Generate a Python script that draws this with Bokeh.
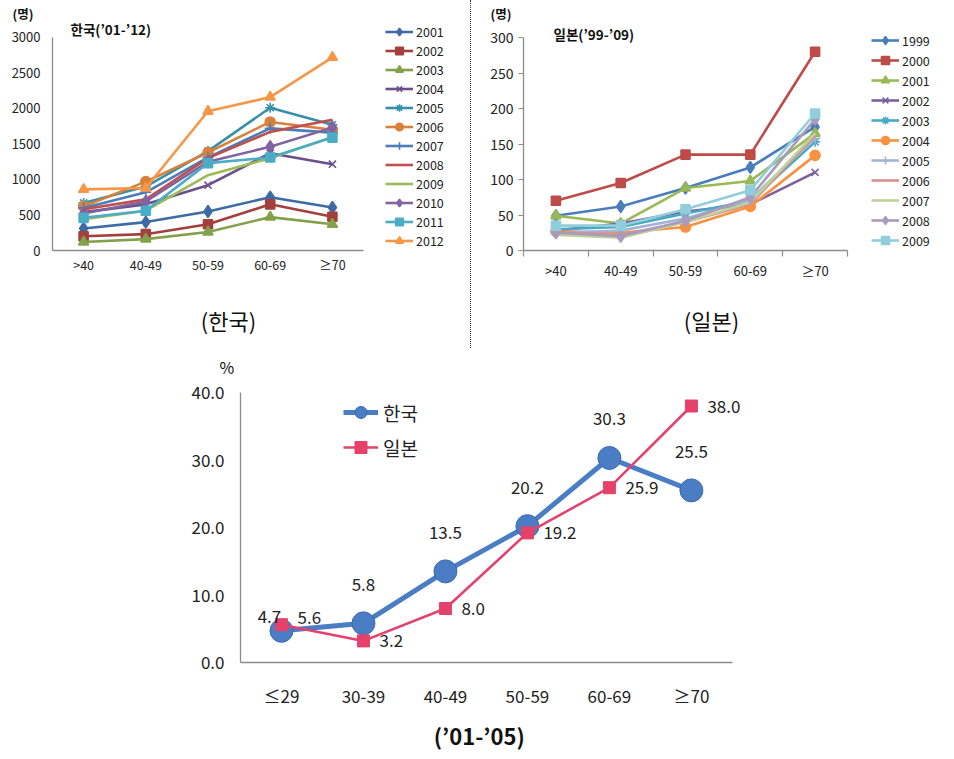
from bokeh.plotting import figure
from bokeh.models import (Range1d, Legend, LegendItem, Label, LabelSet, Title,
                          ColumnDataSource, FixedTicker, NumeralTickFormatter, Div)
from bokeh.core.properties import value
from bokeh.layouts import column, row
from bokeh.embed import file_html
from bokeh.resources import INLINE

FONT = "Noto Sans CJK KR"

# ---------------- data ----------------
age_top = [">40", "40-49", "50-59", "60-69", "≥70"]

kr_years = ["2001", "2002", "2003", "2004", "2005", "2006",
            "2007", "2008", "2009", "2010", "2011", "2012"]
kr_2001 = [310, 400, 550, 750, 605]
kr_2002 = [200, 230, 370, 650, 475]
kr_2003 = [120, 160, 260, 470, 370]
kr_2004 = [540, 650, 920, 1370, 1215]
kr_2005 = [670, 900, 1400, 2010, 1770]
kr_2006 = [620, 970, 1380, 1810, 1700]
kr_2007 = [600, 820, 1310, 1720, 1660]
kr_2008 = [580, 720, 1300, 1670, 1840]
kr_2009 = [440, 560, 1060, 1300, 1600]
kr_2010 = [520, 690, 1250, 1460, 1730]
kr_2011 = [460, 560, 1230, 1310, 1590]
kr_2012 = [860, 880, 1960, 2160, 2720]
kr_series = [kr_2001, kr_2002, kr_2003, kr_2004, kr_2005, kr_2006,
             kr_2007, kr_2008, kr_2009, kr_2010, kr_2011, kr_2012]

jp_years = ["1999", "2000", "2001", "2002", "2003", "2004",
            "2005", "2006", "2007", "2008", "2009"]
jp_1999 = [49, 62, 88, 117, 174]
jp_2000 = [70, 95, 135, 135, 280]
jp_2001 = [49, 38, 88, 98, 165]
jp_2002 = [28, 38, 55, 65, 110]
jp_2003 = [30, 33, 52, 70, 153]
jp_2004 = [27, 25, 33, 62, 134]
jp_2005 = [25, 28, 45, 72, 158]
jp_2006 = [26, 22, 40, 65, 162]
jp_2007 = [22, 18, 40, 68, 165]
jp_2008 = [25, 20, 42, 75, 185]
jp_2009 = [35, 35, 58, 85, 193]
jp_series = [jp_1999, jp_2000, jp_2001, jp_2002, jp_2003, jp_2004,
             jp_2005, jp_2006, jp_2007, jp_2008, jp_2009]

age_bot = ["≤29", "30-39", "40-49", "50-59", "60-69", "≥70"]
korea_pct = [4.7, 5.8, 13.5, 20.2, 30.3, 25.5]
japan_pct = [5.6, 3.2, 8.0, 19.2, 25.9, 38.0]

# ---------------- styles ----------------
kr_colors = ["#3D6BA5", "#A3403C", "#83A14A", "#6A4F8A", "#3790A8", "#D9803A",
             "#4A7EBB", "#C0504D", "#9BBB59", "#8064A2", "#4BACC6", "#F79646"]
kr_markers = ["diamond", "square", "triangle", "x", "asterisk", "circle",
              "cross", None, None, "diamond", "square", "triangle"]
jp_colors = ["#4A7EBB", "#BE4B48", "#98B954", "#7D60A0", "#46AAC5", "#F69240",
             "#A2B4D6", "#DA8F8D", "#BDD39A", "#A99BBD", "#92CDDC"]
jp_markers = ["diamond", "square", "triangle", "x", "asterisk", "circle",
              "cross", None, None, "diamond", "square"]
marker_size = {"diamond": 12, "square": 9, "triangle": 10, "x": 10,
               "asterisk": 10, "circle": 10, "cross": 11}
AXIS_GREY = "#8C8C8C"
TXT = "#222222"
EM, EN, QS = "\u2003", "\u2002", "\u2005"


def style_common(p):
    p.outline_line_color = None
    p.xgrid.grid_line_color = None
    p.ygrid.grid_line_color = None
    p.background_fill_color = "white"
    p.border_fill_color = "white"
    for ax in (p.xaxis, p.yaxis):
        ax.axis_line_color = AXIS_GREY
        ax.axis_line_width = 1.3
        ax.major_label_text_font = FONT
        ax.major_label_text_color = TXT
        ax.minor_tick_line_color = None
        ax.axis_label_text_font = FONT
        ax.axis_label_text_color = "#111111"
        ax.axis_label_text_font_style = "normal"


def cat_axis(ax, centers, labels):
    ax.ticker = FixedTicker(ticks=centers)
    ax.major_label_overrides = {c: lab for c, lab in zip(centers, labels)}
    ax.major_tick_out = 0
    ax.major_tick_in = 0


def make_series(p, xs, series, names, colors, markers):
    items = []
    for ys, name, col, mk in zip(series, names, colors, markers):
        src = ColumnDataSource(dict(x=xs, y=ys))
        rends = [p.line("x", "y", source=src, line_color=col, line_width=2.6)]
        if mk is not None:
            rends.append(p.scatter("x", "y", source=src, marker=mk, size=marker_size[mk],
                                   fill_color=col, line_color=col, line_width=1.6))
        items.append(LegendItem(label=name, renderers=rends))
    return items


def top_legend(items, loc, gh):
    return Legend(items=items, location=loc, orientation="vertical",
                  glyph_width=28, glyph_height=gh, label_height=gh, spacing=0,
                  label_standoff=3, padding=0, margin=0,
                  border_line_color=None, background_fill_alpha=0,
                  label_text_font=FONT, label_text_font_size="12.5px",
                  label_text_color=TXT)


def unit_title(offset):
    return Title(text="(명)", align="left", offset=offset, standoff=0,
                 vertical_align="bottom", text_font=FONT, text_font_size="12.5px",
                 text_font_style="bold", text_color="#111111")


def chart_label(p, text, x, y):
    p.add_layout(Label(x=x, y=y, x_units="screen", y_units="screen", text=text,
                       text_font=FONT, text_font_size="13.5px", text_font_style="bold",
                       text_color="#111111", text_align="left", text_baseline="middle"))


ctr_top = [i + 0.5 for i in range(len(age_top))]

# ---------------- Korea (top left) ----------------
pk = figure(width=470, height=348, x_range=Range1d(0, 5 * 418 / 311),
            y_range=Range1d(0, 3000 * 229 / 214),
            output_backend="svg", toolbar_location=None,
            min_border_left=52, min_border_right=0, min_border_top=22, min_border_bottom=97)
style_common(pk)
pk.yaxis.ticker = FixedTicker(ticks=[0, 500, 1000, 1500, 2000, 2500, 3000])
pk.yaxis.bounds = (0, 3000)
pk.yaxis.major_tick_out = 0
pk.yaxis.major_tick_in = 0
pk.yaxis.major_label_standoff = 12
pk.yaxis.major_label_text_font_size = "13px"
cat_axis(pk.xaxis, ctr_top, age_top)
pk.xaxis.bounds = (0, len(age_top))
pk.xaxis.major_label_standoff = 4
pk.xaxis.major_label_text_font_size = "12.5px"
pk.xaxis.axis_label = "(한국)" + EM + EM + EM
pk.xaxis.axis_label_text_font_size = "22px"
pk.xaxis.axis_label_standoff = 27
kr_items = make_series(pk, ctr_top, kr_series, kr_years, kr_colors, kr_markers)
pk.add_layout(top_legend(kr_items, (333, 0), 19), "center")
pk.add_layout(unit_title(-40), "above")
chart_label(pk, "한국(’01-’12)", 18, 222)

# ---------------- separator ----------------
sep = Div(text="", width=1, height=348, margin=0,
          styles={"border-left": "1px dotted #333", "height": "348px", "width": "0px"})

# ---------------- Japan (top right) ----------------
pj = figure(width=483, height=348, x_range=Range1d(0, 5 * 431 / 324),
            y_range=Range1d(0, 300 * 228 / 213),
            output_backend="svg", toolbar_location=None,
            min_border_left=52, min_border_right=0, min_border_top=22, min_border_bottom=98)
style_common(pj)
pj.yaxis.ticker = FixedTicker(ticks=[0, 50, 100, 150, 200, 250, 300])
pj.yaxis.bounds = (0, 300)
pj.yaxis.major_tick_out = 5
pj.yaxis.major_tick_in = 0
pj.yaxis.major_tick_line_color = AXIS_GREY
pj.yaxis.major_label_standoff = 5
pj.yaxis.major_label_text_font_size = "14px"
cat_axis(pj.xaxis, ctr_top, age_top)
pj.xaxis.ticker = FixedTicker(ticks=ctr_top, minor_ticks=list(range(len(age_top) + 1)))
pj.xaxis.bounds = (0, len(age_top))
pj.xaxis.minor_tick_out = 6
pj.xaxis.minor_tick_in = 0
pj.xaxis.minor_tick_line_color = AXIS_GREY
pj.xaxis.minor_tick_line_width = 1.2
pj.xaxis.major_label_standoff = 4
pj.xaxis.major_label_text_font_size = "13px"
pj.xaxis.axis_label = "(일본)" + EM + EM + EN
pj.xaxis.axis_label_text_font_size = "22px"
pj.xaxis.axis_label_standoff = 21
jp_items = make_series(pj, ctr_top, jp_series, jp_years, jp_colors, jp_markers)
pj.add_layout(top_legend(jp_items, (348, 0), 20), "center")
pj.add_layout(unit_title(-33), "above")
chart_label(pj, "일본(’99-’09)", 30, 217)

# ---------------- bottom: share by age ----------------
KR_BLUE = "#4A7DC4"
KR_EDGE = "#3C6BB0"
JP_RED = "#E6416A"
ctr_bot = [i + 0.5 for i in range(len(age_bot))]
pb = figure(width=954, height=411, x_range=Range1d(0, 6.16),
            y_range=Range1d(0, 40 * 284 / 270),
            output_backend="svg", toolbar_location=None,
            min_border_left=240, min_border_right=209, min_border_top=30, min_border_bottom=97)
style_common(pb)
cat_axis(pb.xaxis, ctr_bot, age_bot)
pb.xaxis.bounds = (0, len(age_bot))
pb.xaxis.major_label_standoff = 20
pb.xaxis.major_label_text_font_size = "17px"
pb.xaxis.axis_label = "(’01-’05)" + EM + QS
pb.xaxis.axis_label_text_font_size = "22px"
pb.xaxis.axis_label_text_font_style = "bold"
pb.xaxis.axis_label_standoff = 8
pb.yaxis.ticker = FixedTicker(ticks=[0, 10, 20, 30, 40])
pb.yaxis.bounds = (0, 40)
pb.yaxis.formatter = NumeralTickFormatter(format="0.0")
pb.yaxis.major_tick_out = 0
pb.yaxis.major_tick_in = 0
pb.yaxis.major_label_standoff = 16
pb.yaxis.major_label_text_font_size = "17px"

src_k = ColumnDataSource(dict(x=ctr_bot, y=korea_pct,
                              t=[f"{v:.1f}" for v in korea_pct],
                              dx=[-12 if i == 0 else 0 for i in range(len(age_bot))],
                              dy=[14 if i == 0 else 39 for i in range(len(age_bot))]))
src_j = ColumnDataSource(dict(x=ctr_bot, y=japan_pct,
                              t=[f"{v:.1f}" for v in japan_pct],
                              dy=[7 if i == 0 else 0 for i in range(len(age_bot))]))
rk_line = pb.line("x", "y", source=src_k, line_color=KR_BLUE, line_width=5)
rk_dot = pb.scatter("x", "y", source=src_k, marker="circle", size=23,
                    fill_color=KR_BLUE, line_color=KR_EDGE, line_width=1)
rj_line = pb.line("x", "y", source=src_j, line_color=JP_RED, line_width=2.5)
rj_dot = pb.scatter("x", "y", source=src_j, marker="square", size=12,
                    fill_color=JP_RED, line_color=JP_RED)

pb.add_layout(LabelSet(x="x", y="y", text="t", source=src_k, x_offset="dx", y_offset="dy",
                       text_font=value(FONT), text_font_size="17px", text_color=TXT,
                       text_align="center", text_baseline="middle"))
pb.add_layout(LabelSet(x="x", y="y", text="t", source=src_j, x_offset=16, y_offset="dy",
                       text_font=value(FONT), text_font_size="17px", text_color=TXT,
                       text_align="left", text_baseline="middle"))

leg_b = Legend(items=[LegendItem(label="한국", renderers=[rk_line, rk_dot]),
                      LegendItem(label="일본", renderers=[rj_line, rj_dot])],
               location=(103, 200), glyph_width=35, glyph_height=30, label_height=30,
               spacing=5, label_standoff=5, padding=0, margin=0,
               border_line_color=None, background_fill_alpha=0,
               label_text_font=FONT, label_text_font_size="19px", label_text_color=TXT)
pb.add_layout(leg_b, "center")
pb.add_layout(Title(text="%", align="left", offset=-21, standoff=0, vertical_align="bottom",
                    text_font=FONT, text_font_size="16px", text_font_style="normal",
                    text_color="#111111"), "above")

layout = column(row(pk, sep, pj), pb)
open("out.html", "w").write(file_html(layout, INLINE))
